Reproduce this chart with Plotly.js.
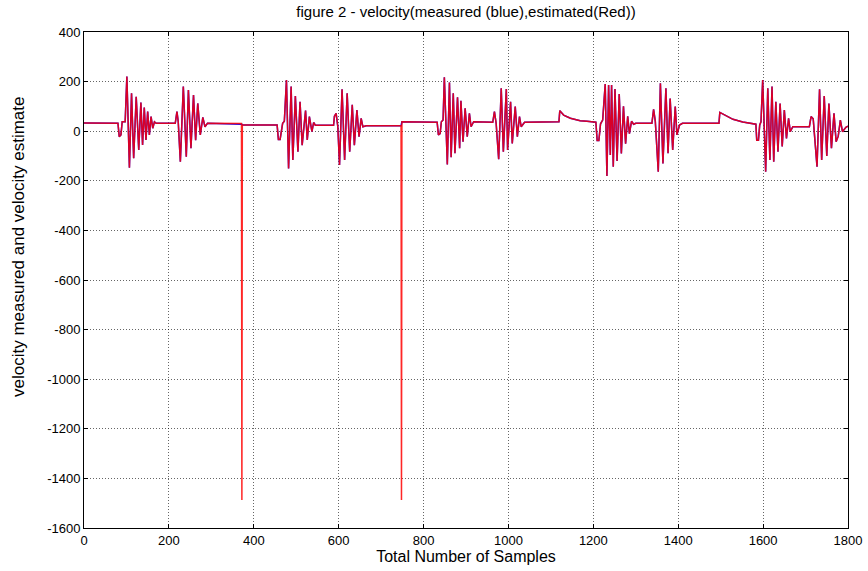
<!DOCTYPE html>
<html>
<head>
<meta charset="utf-8">
<script src="https://cdn.plot.ly/plotly-3.0.1.min.js"></script>
<style>
  html, body { margin: 0; padding: 0; background: #fff; }
  #chart { width: 868px; height: 571px; }
</style>
</head>
<body>
<div id="chart"></div>
<script>
// Sample index (breakpoints)
const samples = [
  0, 80, 83, 87, 90, 97, 101, 107, 112, 117, 123, 129, 134, 138, 142, 146, 150, 154, 158, 162, 166, 170,
  215, 217, 219, 222, 227, 234, 241, 246, 252, 258, 263, 268, 274, 280, 285, 291,
  370, 371, 372, 373,
  455, 458, 462, 468, 472, 477, 482, 488, 492, 498, 504, 509, 514, 522, 526, 531, 537, 541, 545,
  588, 590, 594, 598, 602, 608, 614, 620, 626, 632, 637, 643, 648, 653, 657, 665,
  747, 748, 749,
  832, 835, 839, 842, 846, 849, 856, 861, 865, 870, 874, 880, 885, 888, 893, 898, 903, 908, 912, 918,
  963, 967, 971, 977, 983, 988, 995, 998, 1005, 1009, 1016, 1021, 1026, 1030, 1038,
  1119, 1121, 1130, 1146, 1169, 1185, 1206,
  1209, 1213, 1217, 1222, 1228, 1232, 1236, 1240, 1243, 1247, 1251, 1256, 1261, 1266, 1271, 1276, 1281, 1285, 1290, 1295, 1300,
  1338, 1342, 1346, 1353, 1358, 1364, 1371, 1376, 1381, 1387, 1393, 1397, 1403, 1410,
  1496, 1498, 1513, 1529, 1552, 1576, 1583,
  1585, 1589, 1592, 1595, 1599, 1606, 1611, 1616, 1621, 1625, 1630, 1635, 1640, 1645, 1650, 1655, 1660, 1664, 1670,
  1709, 1713, 1718, 1727, 1733, 1738, 1744, 1750, 1755, 1761, 1767, 1772, 1777, 1782, 1787, 1795, 1800
];

// Measured velocity (blue)
const measured = [
  33, 32, -22, -15, 38, 38, 220, -147, 153, -109, 139, -76, 116, -56, 95, -35, 79, -15, 59, 12, 38, 32,
  32, 59, 79, 38, -123, 180, -103, 166, -69, 146, -36, 112, -15, 56, 18, 32,
  31, 31, 28, 25,
  25, -33, -33, 32, 40, 206, -150, 180, -116, 142, -83, 119, -56, 83, -35, 59, -2, 35, 24,
  24, 60, 72, 18, -136, 169, -116, 153, -83, 106, -56, 85, -22, 52, 18, 22,
  22, 30, 38,
  36, -15, -10, 38, 45, 217, -134, 196, -105, 153, -89, 137, -69, 123, -42, 92, -22, 72, 18, 38,
  36, 79, 32, -113, 173, -83, 170, -76, 119, -49, 99, -22, 59, 18, 36,
  38, 83, 65, 52, 42, 40, 36,
  -38, -38, 30, 45, 190, -181, 186, -96, 186, -143, 170, -120, 150, -90, 100, -50, 60, -10, 40, 28, 32,
  32, 88, 40, -163, 193, -130, 173, -89, 132, -76, 99, -15, 25, 32,
  32, 76, 61, 48, 37, 29, 28,
  -36, -36, 25, 38, 206, -163, 173, -116, 180, -123, 119, -83, 112, -62, 85, -29, 52, -2, 18,
  18, 59, 50, -143, 169, -116, 142, -100, 112, -69, 72, -42, -20, 45, -2, 16, 20
];

// Estimated velocity (red) - same as measured except the two dropouts
const estimated = [
  33, 32, -22, -15, 38, 38, 220, -147, 153, -109, 139, -76, 116, -56, 95, -35, 79, -15, 59, 12, 38, 32,
  32, 59, 79, 38, -123, 180, -103, 166, -69, 146, -36, 112, -15, 56, 18, 32,
  31, 31, -1487, 25,
  25, -33, -33, 32, 40, 206, -150, 180, -116, 142, -83, 119, -56, 83, -35, 59, -2, 35, 24,
  24, 60, 72, 18, -136, 169, -116, 153, -83, 106, -56, 85, -22, 52, 18, 22,
  22, -1487, 38,
  36, -15, -10, 38, 45, 217, -134, 196, -105, 153, -89, 137, -69, 123, -42, 92, -22, 72, 18, 38,
  36, 79, 32, -113, 173, -83, 170, -76, 119, -49, 99, -22, 59, 18, 36,
  38, 83, 65, 52, 42, 40, 36,
  -38, -38, 30, 45, 190, -181, 186, -96, 186, -143, 170, -120, 150, -90, 100, -50, 60, -10, 40, 28, 32,
  32, 88, 40, -163, 193, -130, 173, -89, 132, -76, 99, -15, 25, 32,
  32, 76, 61, 48, 37, 29, 28,
  -36, -36, 25, 38, 206, -163, 173, -116, 180, -123, 119, -83, 112, -62, 85, -29, 52, -2, 18,
  18, 59, 50, -143, 169, -116, 142, -100, 112, -69, 72, -42, -20, 45, -2, 16, 20
];

const xTicks = [0, 200, 400, 600, 800, 1000, 1200, 1400, 1600, 1800];
const yTicks = [-1600, -1400, -1200, -1000, -800, -600, -400, -200, 0, 200, 400];

const font = 'Liberation Sans, Arial, sans-serif';

const traces = [
  { x: samples, y: measured, type: 'scatter', mode: 'lines', name: 'measured',
    line: { color: 'rgb(0,0,255)', width: 1.5 } },
  { x: samples, y: estimated, type: 'scatter', mode: 'lines', name: 'estimated',
    opacity: 0.85, line: { color: 'rgb(255,0,0)', width: 1.5 } }
];

const axisCommon = {
  showline: true, linecolor: '#000', linewidth: 1, mirror: 'ticks',
  ticks: 'inside', ticklen: 4, tickcolor: '#000',
  showgrid: true, gridcolor: 'rgba(0,0,0,0.6)', griddash: '1px,2px', gridwidth: 1,
  zeroline: false, tickfont: { family: font, size: 13, color: '#000' }
};

const layout = {
  width: 868, height: 571,
  margin: { l: 84, r: 20, t: 32, b: 43 },
  paper_bgcolor: '#fff', plot_bgcolor: '#fff',
  showlegend: false,
  title: { text: 'figure 2 - velocity(measured (blue),estimated(Red))',
    font: { family: font, size: 15, color: '#000' },
    x: 0.5, xref: 'paper', y: 1 - 12/571, yref: 'container', yanchor: 'middle' },
  xaxis: Object.assign({}, axisCommon, {
    range: [0, 1800], tickvals: xTicks, ticktext: xTicks.map(String),
    title: { text: 'Total Number of Samples', font: { family: font, size: 16, color: '#000' }, standoff: 0 }
  }),
  yaxis: Object.assign({}, axisCommon, {
    range: [-1600, 400], tickvals: yTicks, ticktext: yTicks.map(String)
  }),
  annotations: [{
    text: 'velocity measured and velocity estimate',
    xref: 'paper', yref: 'paper', x: -66/764, y: (528 - 247) / 496,
    xanchor: 'center', yanchor: 'middle', textangle: -90, showarrow: false,
    font: { family: font, size: 17, color: '#000' }
  }]
};

Plotly.newPlot('chart', traces, layout, { staticPlot: true, displayModeBar: false });
</script>
</body>
</html>
